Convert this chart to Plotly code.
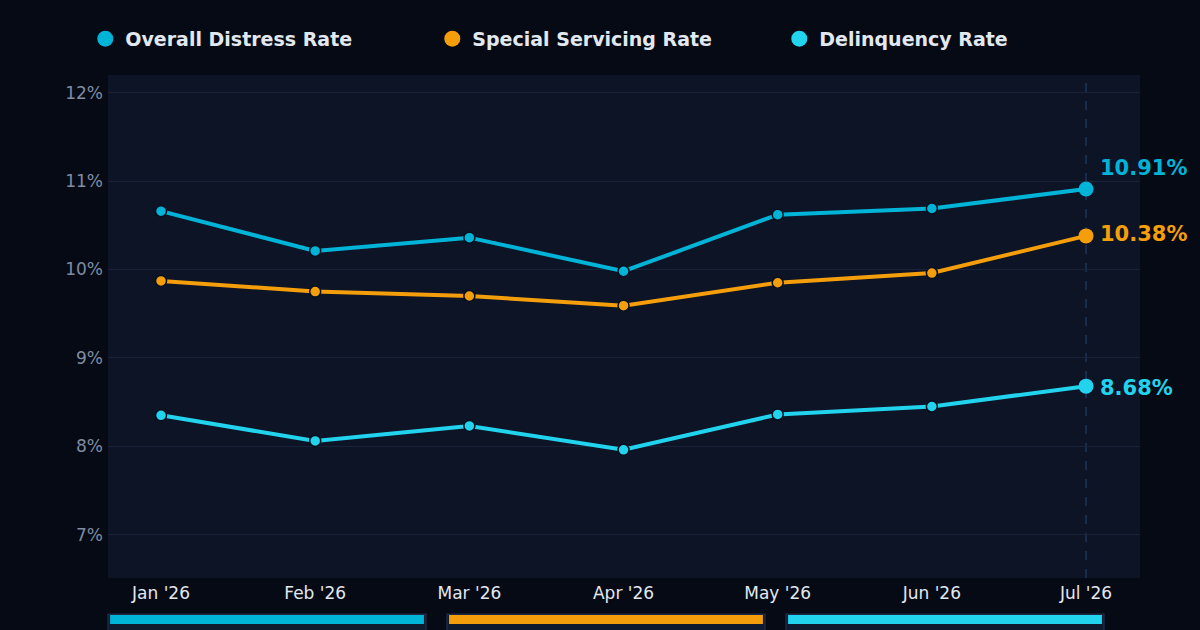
import plotly.graph_objects as go

# Data
months = ["Jan '26", "Feb '26", "Mar '26", "Apr '26", "May '26", "Jun '26", "Jul '26"]
overall_rate = [10.66, 10.21, 10.36, 9.98, 10.62, 10.69, 10.91]
special_rate = [9.87, 9.75, 9.70, 9.59, 9.85, 9.96, 10.38]
delinquency_rate = [8.35, 8.06, 8.23, 7.96, 8.36, 8.45, 8.68]
series_names = ["Overall Distress Rate", "Special Servicing Rate", "Delinquency Rate"]
y_ticks = [7, 8, 9, 10, 11, 12]
y_tick_labels = ["7%", "8%", "9%", "10%", "11%", "12%"]

# Styling
colors = ["#00b4d8", "#f59e0b", "#22d3ee"]
paper_bg = "#050a14"
plot_bg = "#0c1426"
grid_col = "#18233a"
font_name = "DejaVu Sans"

x_idx = list(range(len(months)))
all_series = [overall_rate, special_rate, delinquency_rate]
label_shift = [21, 2, -2]

fig = go.Figure()

for name, vals, col in zip(series_names, all_series, colors):
    # main line with small outlined markers
    fig.add_trace(go.Scatter(
        x=x_idx, y=vals,
        mode="lines+markers",
        line=dict(color=col, width=4),
        marker=dict(size=11, color=col, line=dict(color="#07101f", width=1.5)),
        showlegend=False, hoverinfo="skip"
    ))
    # bigger end marker
    fig.add_trace(go.Scatter(
        x=[x_idx[-1]], y=[vals[-1]],
        mode="markers",
        marker=dict(size=15, color=col),
        showlegend=False, hoverinfo="skip"
    ))
    # legend-only entry
    fig.add_trace(go.Scatter(
        x=[None], y=[None], mode="markers", name=name,
        marker=dict(size=18, color=col)
    ))

# end value labels
for vals, col, sh in zip(all_series, colors, label_shift):
    fig.add_annotation(
        x=x_idx[-1], y=vals[-1], text=f"<b>{vals[-1]:.2f}%</b>",
        xref="x", yref="y", xanchor="left", yanchor="middle",
        xshift=12, yshift=sh, showarrow=False,
        font=dict(family=font_name, size=21, color=col)
    )

# dashed vertical marker at the latest month
fig.add_shape(type="line", xref="x", yref="paper", x0=x_idx[-1], x1=x_idx[-1], y0=0, y1=1,
              line=dict(color="#1e3458", width=1.5, dash="dash"), layer="below")

# bottom colour bars
bar_w = 318 / 1032
bar_gap = 21 / 1032
for i, col in enumerate(colors):
    x0 = i * (bar_w + bar_gap)
    fig.add_shape(type="rect", xref="paper", yref="paper", x0=x0, x1=x0 + bar_w,
                  y0=-0.11, y1=-0.072, fillcolor="#101a2e",
                  line=dict(color="#1c2a44", width=1.5))
    fig.add_shape(type="rect", xref="paper", yref="paper", x0=x0 + 0.002, x1=x0 + bar_w - 0.002,
                  y0=-0.0915, y1=-0.0735, fillcolor=col, line=dict(width=0))

fig.update_layout(
    width=1200, height=630,
    paper_bgcolor=paper_bg, plot_bgcolor=plot_bg,
    margin=dict(l=108, r=60, t=75, b=52),
    font=dict(family=font_name, color="#e2e8f0"),
    legend=dict(
        orientation="h", x=-0.022, y=1.072, xanchor="left", yanchor="middle",
        entrywidth=302, entrywidthmode="pixels",
        font=dict(family=font_name, size=19, color="#e2e8f0", weight="bold"),
        bgcolor="rgba(0,0,0,0)", itemsizing="trace"
    ),
    xaxis=dict(
        range=[-0.344, 6.35], tickmode="array", tickvals=x_idx, ticktext=months,
        showgrid=False, zeroline=False, showline=False, ticklabelstandoff=3,
        tickfont=dict(size=17, color="#e2e8f0"), ticks=""
    ),
    yaxis=dict(
        range=[6.51, 12.2], tickmode="array", tickvals=y_ticks, ticktext=y_tick_labels,
        gridcolor=grid_col, gridwidth=1, zeroline=False, showline=False, ticklabelstandoff=4,
        tickfont=dict(size=17, color="#7f8ca3"), ticks=""
    ),
)

fig.write_html("out.html", config={"displayModeBar": False},
               post_script="document.body.style.margin='0';document.body.style.background='#050a14';")
